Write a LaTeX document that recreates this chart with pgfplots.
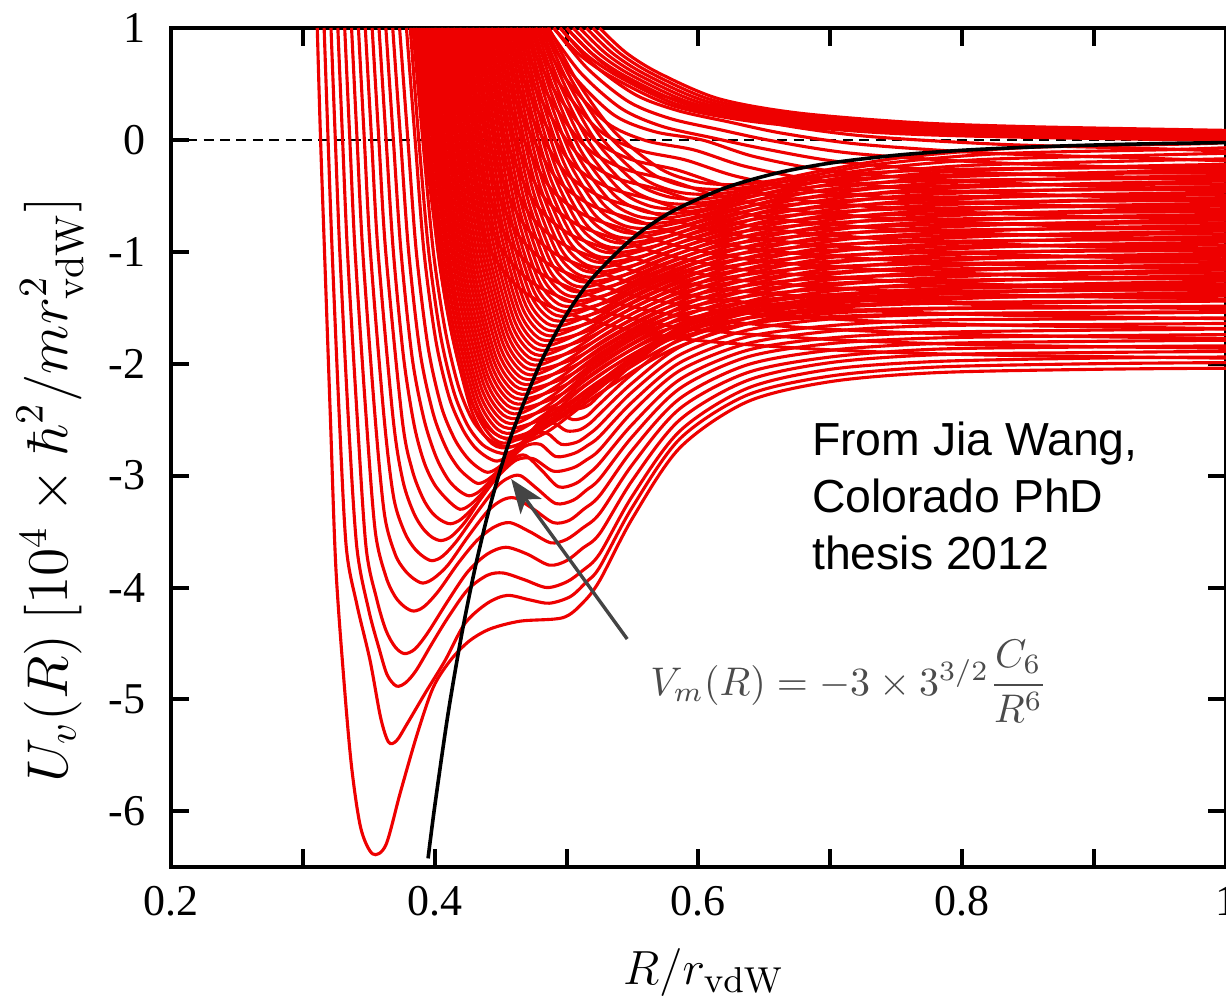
\documentclass[border=0pt]{standalone}
\usepackage[no-math]{fontspec}
\setmainfont{Liberation Serif}
\newfontfamily\notefont{Liberation Sans}
\usepackage{amsmath}
\usepackage{pgfplots}
\pgfplotsset{compat=1.18}
\usetikzlibrary{arrows.meta}

\definecolor{curvered}{RGB}{238,0,0}
\definecolor{annot}{RGB}{75,75,75}

\begin{document}
\begin{tikzpicture}
\begin{axis}[
    scale only axis,
    width=264pt, height=210pt,
    xmin=0.2, xmax=1, ymin=-6.5, ymax=1,
    xtick={0.2,0.3,0.4,0.5,0.6,0.7,0.8,0.9,1},
    xticklabels={0.2,,0.4,,0.6,,0.8,,1},
    ytick={-6,-5,-4,-3,-2,-1,0,1},
    yticklabels={-6,-5,-4,-3,-2,-1,0,1},
    tick align=inside, tick pos=both,
    major tick length=4.5pt,
    every tick/.style={black, line width=1pt},
    axis line style={line width=1pt},
    ticklabel style={font=\fontsize{11}{13}\selectfont},
    xticklabel style={yshift=-1.3pt},
    yticklabel style={xshift=-2.8pt},
    xlabel={$R/r_{\mathrm{vdW}}$},
    ylabel={$U_v(R)\ [10^4\times\hbar^2/mr_{\mathrm{vdW}}^2]$},
    every axis x label/.style={at={(rel axis cs:0.505,-0.139)}, anchor=base,
        font=\fontsize{12.7}{15}\selectfont},
    every axis y label/.style={at={(rel axis cs:-0.1146,0.45)}, anchor=center,
        rotate=90, font=\fontsize{13.8}{17}\selectfont},
    rc/.style={draw=curvered, line width=0.78pt, smooth, no markers},
]

% zero line
\addplot[black, line width=0.5pt, dash pattern=on 2.5pt off 1.6pt] coordinates {(0.2,0) (1,0)};

% ---- deep wells
\addplot[rc] coordinates {(0.311,1) (0.3135,0) (0.3165,-1) (0.321,-2.5) (0.325,-3.8) (0.331,-4.8) (0.337,-5.6) (0.344,-6.15) (0.353,-6.38) (0.363,-6.3) (0.374,-5.83) (0.387,-5.3) (0.399,-4.89) (0.412,-4.65) (0.426,-4.48) (0.442,-4.37) (0.465,-4.3) (0.497,-4.27) (0.512,-4.14) (0.525,-3.94) (0.55,-3.38) (0.586,-2.75) (0.637,-2.34) (0.70,-2.16) (0.78,-2.08) (0.90,-2.05) (1.0,-2.04)};
\addplot[rc] coordinates {(0.3162,1) (0.3192,0) (0.3223,-1) (0.3278,-2.5) (0.333,-3.64) (0.341,-4.15) (0.351,-4.65) (0.359,-5.16) (0.365,-5.38) (0.371,-5.37) (0.379,-5.22) (0.393,-4.94) (0.408,-4.65) (0.423,-4.32) (0.44,-4.14) (0.455,-4.07) (0.472,-4.11) (0.487,-4.14) (0.503,-4.08) (0.515,-3.95) (0.525,-3.82) (0.55,-3.28) (0.586,-2.67) (0.637,-2.28) (0.70,-2.11) (0.78,-2.03) (0.90,-2.0) (1.0,-1.99)};
\addplot[rc] coordinates {(0.3214,1) (0.3247,0) (0.3281,-1) (0.3346,-2.5) (0.341,-3.64) (0.35,-4.2) (0.358,-4.55) (0.364,-4.78) (0.371,-4.88) (0.378,-4.85) (0.386,-4.74) (0.398,-4.5) (0.41,-4.27) (0.425,-4.02) (0.44,-3.89) (0.452,-3.87) (0.468,-3.93) (0.485,-4.0) (0.5,-3.95) (0.512,-3.85) (0.525,-3.70) (0.55,-3.18) (0.586,-2.60) (0.637,-2.22) (0.70,-2.05) (0.78,-1.98) (0.9,-1.95) (1,-1.94)};
\addplot[rc] coordinates {(0.3266,1) (0.3302,0) (0.3339,-1) (0.3414,-2.5) (0.348,-3.64) (0.356,-4.1) (0.363,-4.38) (0.37,-4.53) (0.377,-4.59) (0.385,-4.55) (0.395,-4.4) (0.41,-4.12) (0.425,-3.86) (0.44,-3.7) (0.454,-3.64) (0.47,-3.7) (0.487,-3.8) (0.5,-3.76) (0.512,-3.65) (0.525,-3.52) (0.55,-3.04) (0.586,-2.5) (0.637,-2.15) (0.7,-1.99) (0.78,-1.92) (0.9,-1.9) (1,-1.89)};
\addplot[rc] coordinates {(0.3318,1) (0.3357,0) (0.3397,-1) (0.3482,-2.5) (0.355,-3.5) (0.363,-3.9) (0.37,-4.08) (0.377,-4.17) (0.384,-4.21) (0.392,-4.17) (0.403,-4.03) (0.418,-3.78) (0.432,-3.58) (0.445,-3.46) (0.457,-3.42) (0.472,-3.5) (0.488,-3.6) (0.5,-3.57) (0.512,-3.47) (0.525,-3.34) (0.55,-2.9) (0.586,-2.4) (0.637,-2.08) (0.7,-1.94) (0.78,-1.87) (0.9,-1.85) (1,-1.84)};
\addplot[rc] coordinates {(0.337,1) (0.3412,0) (0.3455,-1) (0.355,-2.5) (0.362,-3.35) (0.37,-3.7) (0.377,-3.84) (0.384,-3.92) (0.391,-3.96) (0.399,-3.92) (0.41,-3.8) (0.425,-3.55) (0.44,-3.32) (0.451,-3.22) (0.461,-3.2) (0.475,-3.3) (0.49,-3.42) (0.502,-3.4) (0.513,-3.3) (0.525,-3.18) (0.55,-2.77) (0.586,-2.31) (0.637,-2.01) (0.7,-1.88) (0.78,-1.82) (0.9,-1.8) (1,-1.79)};
\addplot[rc] coordinates {(0.3422,1) (0.3467,0) (0.3513,-1) (0.3618,-2.5) (0.369,-3.2) (0.377,-3.5) (0.384,-3.64) (0.391,-3.72) (0.398,-3.76) (0.406,-3.72) (0.417,-3.58) (0.432,-3.33) (0.447,-3.1) (0.456,-3.02) (0.465,-3.0) (0.478,-3.12) (0.492,-3.25) (0.505,-3.22) (0.515,-3.13) (0.525,-3.03) (0.55,-2.65) (0.586,-2.22) (0.637,-1.94) (0.7,-1.82) (0.78,-1.77) (0.9,-1.75) (1,-1.74)};
\addplot[rc] coordinates {(0.3474,1) (0.3522,0) (0.3571,-1) (0.3686,-2.5) (0.376,-3.05) (0.384,-3.33) (0.391,-3.47) (0.398,-3.55) (0.405,-3.58) (0.413,-3.54) (0.424,-3.4) (0.438,-3.15) (0.452,-2.93) (0.461,-2.84) (0.469,-2.82) (0.481,-2.95) (0.494,-3.1) (0.507,-3.07) (0.517,-2.98) (0.525,-2.89) (0.55,-2.54) (0.586,-2.14) (0.637,-1.88) (0.7,-1.77) (0.78,-1.72) (0.9,-1.70) (1,-1.69)};
\addplot[rc] coordinates {(0.3526,1) (0.3577,0) (0.3629,-1) (0.3754,-2.5) (0.383,-2.95) (0.391,-3.2) (0.398,-3.33) (0.405,-3.4) (0.412,-3.43) (0.42,-3.39) (0.432,-3.25) (0.447,-3.02) (0.462,-2.86) (0.475,-2.85) (0.49,-2.96) (0.505,-2.93) (0.515,-2.86) (0.525,-2.77) (0.55,-2.43) (0.586,-2.06) (0.637,-1.82) (0.7,-1.71) (0.78,-1.66) (0.9,-1.65) (1,-1.64)};
\addplot[rc] coordinates {(0.3578,1) (0.3632,0) (0.3687,-1) (0.3765,-1.95) (0.3845,-2.55) (0.392,-2.88) (0.4,-3.08) (0.41,-3.22) (0.419,-3.3) (0.427,-3.26) (0.439,-3.12) (0.454,-2.9) (0.468,-2.74) (0.48,-2.72) (0.492,-2.83) (0.506,-2.8) (0.516,-2.73) (0.525,-2.65) (0.55,-2.34) (0.586,-1.99) (0.637,-1.76) (0.7,-1.66) (0.78,-1.61) (0.9,-1.6) (1,-1.59)};
\addplot[rc] coordinates {(0.363,1) (0.3687,0) (0.3745,-1) (0.383,-1.95) (0.392,-2.5) (0.401,-2.83) (0.41,-3.03) (0.418,-3.13) (0.426,-3.18) (0.434,-3.14) (0.446,-3.0) (0.46,-2.8) (0.473,-2.64) (0.485,-2.62) (0.496,-2.72) (0.508,-2.7) (0.517,-2.63) (0.525,-2.55) (0.55,-2.25) (0.586,-1.92) (0.637,-1.70) (0.7,-1.60) (0.78,-1.56) (0.9,-1.55) (1,-1.54)};
\addplot[rc] coordinates {(0.3682,1) (0.3742,0) (0.3803,-1) (0.389,-1.9) (0.399,-2.45) (0.409,-2.76) (0.418,-2.93) (0.426,-3.02) (0.433,-3.07) (0.441,-3.03) (0.453,-2.9) (0.466,-2.71) (0.478,-2.56) (0.49,-2.53) (0.5,-2.6) (0.51,-2.59) (0.518,-2.53) (0.525,-2.45) (0.55,-2.17) (0.586,-1.85) (0.637,-1.64) (0.7,-1.55) (0.78,-1.51) (0.9,-1.5) (1,-1.49)};
\addplot[rc] coordinates {(0.3734,1) (0.3797,0) (0.3861,-1) (0.395,-1.85) (0.405,-2.38) (0.415,-2.67) (0.424,-2.83) (0.432,-2.92) (0.44,-2.97) (0.448,-2.93) (0.46,-2.8) (0.472,-2.62) (0.484,-2.48) (0.495,-2.45) (0.505,-2.5) (0.515,-2.47) (0.525,-2.36) (0.55,-2.09) (0.586,-1.78) (0.637,-1.59) (0.7,-1.5) (0.78,-1.46) (0.9,-1.45) (1,-1.44)};
\addplot[rc] coordinates {(0.3786,1) (0.3852,0) (0.3919,-1) (0.401,-1.8) (0.411,-2.3) (0.421,-2.58) (0.43,-2.74) (0.439,-2.83) (0.447,-2.87) (0.455,-2.83) (0.466,-2.71) (0.478,-2.54) (0.49,-2.41) (0.5,-2.38) (0.51,-2.4) (0.518,-2.36) (0.525,-2.28) (0.55,-2.01) (0.586,-1.72) (0.637,-1.53) (0.7,-1.45) (0.78,-1.41) (0.9,-1.4) (1,-1.39)};
\addplot[rc] coordinates {(0.3815,1) (0.388,0) (0.3955,-1) (0.4045,-1.75) (0.4145,-2.25) (0.425,-2.55) (0.436,-2.72) (0.447,-2.79) (0.455,-2.8) (0.465,-2.74) (0.48,-2.6) (0.5,-2.45) (0.525,-2.22) (0.55,-1.98) (0.586,-1.72) (0.637,-1.55) (0.7,-1.46) (0.78,-1.41) (0.9,-1.385) (1,-1.375)};
\addplot[rc] coordinates {(0.3835,1) (0.391,0) (0.399,-1) (0.408,-1.7) (0.418,-2.2) (0.4285,-2.5) (0.4395,-2.66) (0.45,-2.73) (0.459,-2.74) (0.47,-2.68) (0.485,-2.55) (0.505,-2.38) (0.53,-2.14) (0.555,-1.92) (0.59,-1.67) (0.64,-1.5) (0.7,-1.42) (0.78,-1.37) (0.9,-1.345) (1,-1.335)};
\addplot[rc] coordinates {(0.3855,1) (0.394,0) (0.4025,-1) (0.4115,-1.65) (0.4215,-2.14) (0.432,-2.44) (0.443,-2.6) (0.4535,-2.67) (0.4625,-2.68) (0.474,-2.62) (0.49,-2.48) (0.51,-2.3) (0.535,-2.07) (0.56,-1.86) (0.595,-1.62) (0.645,-1.46) (0.705,-1.38) (0.785,-1.33) (0.9,-1.305) (1,-1.295)};

% ---- upper curves, minima along V_m
\addplot[rc] coordinates {(0.384,1) (0.3947,-0.252) (0.4089,-1.473) (0.4266,-2.370) (0.4408,-2.683) (0.455,-2.75) (0.485,-2.611) (0.525,-2.264) (0.585,-1.847) (0.675,-1.541) (0.805,-1.416) (1,-1.36)};
\addplot[rc] coordinates {(0.3878,1) (0.3982,-0.223) (0.4122,-1.415) (0.4296,-2.292) (0.4435,-2.597) (0.4574,-2.663) (0.4874,-2.528) (0.5274,-2.189) (0.5874,-1.784) (0.6774,-1.486) (0.8074,-1.364) (1,-1.31)};
\addplot[rc] coordinates {(0.3916,1) (0.4019,-0.194) (0.4155,-1.358) (0.4326,-2.214) (0.4463,-2.512) (0.46,-2.576) (0.49,-2.445) (0.53,-2.116) (0.59,-1.721) (0.68,-1.432) (0.81,-1.314) (1,-1.261)};
\addplot[rc] coordinates {(0.3954,1) (0.4055,-0.165) (0.419,-1.301) (0.4358,-2.136) (0.4492,-2.427) (0.4627,-2.489) (0.4927,-2.361) (0.5327,-2.042) (0.5927,-1.658) (0.6827,-1.377) (0.8127,-1.262) (1,-1.211)};
\addplot[rc] coordinates {(0.3992,1) (0.4091,-0.136) (0.4224,-1.243) (0.4389,-2.058) (0.4522,-2.341) (0.4654,-2.402) (0.4954,-2.278) (0.5354,-1.968) (0.5954,-1.596) (0.6854,-1.323) (0.8154,-1.212) (1,-1.162)};
\addplot[rc] coordinates {(0.403,1) (0.4128,-0.107) (0.4259,-1.186) (0.4422,-1.980) (0.4552,-2.256) (0.4683,-2.315) (0.4983,-2.195) (0.5383,-1.894) (0.5983,-1.533) (0.6883,-1.268) (0.8183,-1.160) (1,-1.112)};
\addplot[rc] coordinates {(0.4068,1) (0.4165,-0.078) (0.4293,-1.129) (0.4454,-1.901) (0.4583,-2.170) (0.4712,-2.228) (0.5012,-2.111) (0.5412,-1.820) (0.6012,-1.470) (0.6912,-1.214) (0.8212,-1.109) (1,-1.062)};
\addplot[rc] coordinates {(0.4106,1) (0.4202,-0.049) (0.4329,-1.071) (0.4489,-1.823) (0.4616,-2.085) (0.4744,-2.141) (0.5044,-2.028) (0.5444,-1.746) (0.6044,-1.408) (0.6944,-1.160) (0.8244,-1.058) (1,-1.013)};
\addplot[rc] coordinates {(0.4144,1) (0.4239,-0.020) (0.4366,-1.014) (0.4524,-1.745) (0.465,-1.999) (0.4777,-2.054) (0.5077,-1.945) (0.5477,-1.672) (0.6077,-1.345) (0.6977,-1.105) (0.8277,-1.007) (1,-0.963)};
\addplot[rc] coordinates {(0.4182,1) (0.4276,0.009) (0.4402,-0.956) (0.4559,-1.667) (0.4685,-1.914) (0.4811,-1.967) (0.5111,-1.862) (0.5511,-1.598) (0.6111,-1.282) (0.7011,-1.050) (0.8311,-0.955) (1,-0.913)};
\addplot[rc] coordinates {(0.422,1) (0.4314,0.038) (0.444,-0.899) (0.4597,-1.589) (0.4722,-1.828) (0.4848,-1.880) (0.5148,-1.778) (0.5548,-1.524) (0.6148,-1.220) (0.7048,-0.996) (0.8348,-0.905) (1,-0.864)};
\addplot[rc] coordinates {(0.4258,1) (0.4352,0.067) (0.4478,-0.842) (0.4635,-1.510) (0.476,-1.743) (0.4886,-1.793) (0.5186,-1.695) (0.5586,-1.450) (0.6186,-1.157) (0.7086,-0.941) (0.8386,-0.853) (1,-0.814)};
\addplot[rc] coordinates {(0.4296,1) (0.4391,0.096) (0.4517,-0.784) (0.4675,-1.432) (0.4801,-1.658) (0.4927,-1.706) (0.5227,-1.612) (0.5627,-1.376) (0.6227,-1.094) (0.7127,-0.887) (0.8427,-0.802) (1,-0.764)};
\addplot[rc] coordinates {(0.4334,1) (0.443,0.126) (0.4557,-0.726) (0.4716,-1.353) (0.4844,-1.571) (0.4971,-1.618) (0.5271,-1.528) (0.5671,-1.302) (0.6271,-1.031) (0.7171,-0.832) (0.8471,-0.751) (1,-0.715)};
\addplot[rc] coordinates {(0.4372,1) (0.4469,0.154) (0.4597,-0.670) (0.4758,-1.276) (0.4887,-1.487) (0.5016,-1.532) (0.5316,-1.445) (0.5716,-1.229) (0.6316,-0.968) (0.7216,-0.778) (0.8516,-0.700) (1,-0.665)};
\addplot[rc] coordinates {(0.441,1) (0.4508,0.184) (0.464,-0.612) (0.4804,-1.197) (0.4935,-1.400) (0.5066,-1.444) (0.5366,-1.361) (0.5766,-1.154) (0.6366,-0.905) (0.7266,-0.723) (0.8566,-0.648) (1,-0.615)};
\addplot[rc] coordinates {(0.4448,1) (0.4549,0.213) (0.4683,-0.554) (0.485,-1.119) (0.4984,-1.315) (0.5118,-1.357) (0.5418,-1.278) (0.5818,-1.080) (0.6418,-0.843) (0.7318,-0.669) (0.8618,-0.598) (1,-0.566)};
\addplot[rc] coordinates {(0.4486,1) (0.4589,0.242) (0.4727,-0.497) (0.4899,-1.040) (0.5037,-1.229) (0.5175,-1.270) (0.5475,-1.195) (0.5875,-1.006) (0.6475,-0.780) (0.7375,-0.614) (0.8675,-0.546) (1,-0.516)};
\addplot[rc] coordinates {(0.4524,1) (0.4631,0.271) (0.4774,-0.440) (0.4952,-0.962) (0.5094,-1.144) (0.5237,-1.183) (0.5537,-1.111) (0.5937,-0.932) (0.6537,-0.718) (0.7437,-0.560) (0.8737,-0.496) (1,-0.467)};
\addplot[rc] coordinates {(0.4562,1) (0.4673,0.300) (0.4822,-0.382) (0.5007,-0.884) (0.5156,-1.059) (0.5304,-1.096) (0.5604,-1.028) (0.6004,-0.858) (0.6604,-0.655) (0.7504,-0.505) (0.8804,-0.444) (1,-0.417)};
\addplot[rc] coordinates {(0.46,1) (0.4717,0.329) (0.4872,-0.325) (0.5066,-0.806) (0.5222,-0.973) (0.5377,-1.009) (0.5677,-0.945) (0.6077,-0.784) (0.6677,-0.592) (0.7577,-0.451) (0.8877,-0.393) (1,-0.367)};
\addplot[rc] coordinates {(0.4638,1) (0.4761,0.358) (0.4925,-0.267) (0.5131,-0.728) (0.5295,-0.888) (0.5459,-0.922) (0.5759,-0.862) (0.6159,-0.711) (0.6759,-0.529) (0.7659,-0.397) (0.8959,-0.342) (1,-0.318)};
\addplot[rc] coordinates {(0.4676,1) (0.4807,0.387) (0.4982,-0.210) (0.52,-0.649) (0.5375,-0.802) (0.555,-0.835) (0.585,-0.778) (0.625,-0.637) (0.685,-0.466) (0.775,-0.342) (0.905,-0.291) (1,-0.268)};
\addplot[rc] coordinates {(0.4714,1) (0.4855,0.416) (0.5043,-0.153) (0.5277,-0.571) (0.5465,-0.717) (0.5653,-0.748) (0.5953,-0.695) (0.6353,-0.563) (0.6953,-0.404) (0.7853,-0.287) (0.9153,-0.239) (1,-0.218)};
\addplot[rc] coordinates {(0.4752,1) (0.4905,0.445) (0.5108,-0.095) (0.5363,-0.493) (0.5566,-0.631) (0.577,-0.661) (0.607,-0.612) (0.647,-0.489) (0.707,-0.341) (0.797,-0.233) (0.927,-0.189) (1,-0.169)};
\addplot[rc] coordinates {(0.479,1) (0.4958,0.474) (0.5181,-0.038) (0.5461,-0.415) (0.5684,-0.546) (0.5908,-0.574) (0.6208,-0.529) (0.6608,-0.415) (0.7208,-0.278) (0.8108,-0.178) (0.9408,-0.137) (1,-0.119)};
\addplot[rc] coordinates {(0.4828,1) (0.5015,0.503) (0.5263,0.020) (0.5574,-0.337) (0.5823,-0.460) (0.6072,-0.487) (0.6372,-0.445) (0.6772,-0.341) (0.7372,-0.216) (0.8272,-0.124) (0.9572,-0.087) (1,-0.070)};
\addplot[rc] coordinates {(0.4866,1) (0.5077,0.532) (0.5359,0.077) (0.5711,-0.258) (0.5992,-0.375) (0.6274,-0.40) (0.6574,-0.362) (0.6974,-0.267) (0.7574,-0.153) (0.8474,-0.069) (0.9774,-0.035) (1,-0.02)};

% ---- second set between them, quicker rise
\addplot[rc] coordinates {(0.3859,1) (0.3965,-0.238) (0.4105,-1.444) (0.4281,-2.331) (0.4421,-2.640) (0.4562,-2.7065) (0.4812,-2.531) (0.5162,-2.179) (0.5662,-1.828) (0.6462,-1.629) (0.7562,-1.558) (1,-1.535)};
\addplot[rc] coordinates {(0.3897,1) (0.4001,-0.209) (0.4139,-1.387) (0.4311,-2.253) (0.4449,-2.555) (0.4587,-2.6195) (0.4837,-2.449) (0.5187,-2.109) (0.5687,-1.769) (0.6487,-1.576) (0.7587,-1.508) (1,-1.486)};
\addplot[rc] coordinates {(0.3935,1) (0.4037,-0.180) (0.4173,-1.329) (0.4342,-2.175) (0.4478,-2.469) (0.4614,-2.5325) (0.4864,-2.368) (0.5214,-2.039) (0.5714,-1.710) (0.6514,-1.524) (0.7614,-1.458) (1,-1.436)};
\addplot[rc] coordinates {(0.3973,1) (0.4073,-0.151) (0.4207,-1.272) (0.4374,-2.097) (0.4507,-2.384) (0.4641,-2.4455) (0.4891,-2.287) (0.5241,-1.969) (0.5741,-1.651) (0.6541,-1.471) (0.7641,-1.408) (1,-1.387)};
\addplot[rc] coordinates {(0.4011,1) (0.411,-0.122) (0.4241,-1.215) (0.4406,-2.019) (0.4537,-2.298) (0.4669,-2.3585) (0.4919,-2.205) (0.5269,-1.899) (0.5769,-1.592) (0.6569,-1.419) (0.7669,-1.358) (1,-1.337)};
\addplot[rc] coordinates {(0.4049,1) (0.4146,-0.093) (0.4276,-1.157) (0.4438,-1.940) (0.4568,-2.213) (0.4698,-2.2715) (0.4948,-2.124) (0.5298,-1.829) (0.5798,-1.533) (0.6598,-1.366) (0.7698,-1.307) (1,-1.287)};
\addplot[rc] coordinates {(0.4087,1) (0.4183,-0.064) (0.4311,-1.100) (0.4472,-1.862) (0.46,-2.128) (0.4728,-2.1845) (0.4978,-2.042) (0.5328,-1.758) (0.5828,-1.474) (0.6628,-1.313) (0.7728,-1.256) (1,-1.238)};
\addplot[rc] coordinates {(0.4125,1) (0.422,-0.035) (0.4348,-1.043) (0.4507,-1.784) (0.4634,-2.042) (0.4761,-2.0975) (0.5011,-1.961) (0.5361,-1.688) (0.5861,-1.415) (0.6661,-1.261) (0.7761,-1.206) (1,-1.188)};
\addplot[rc] coordinates {(0.4163,1) (0.4258,-0.006) (0.4384,-0.985) (0.4542,-1.706) (0.4668,-1.957) (0.4794,-2.0105) (0.5044,-1.880) (0.5394,-1.618) (0.5894,-1.356) (0.6694,-1.208) (0.7794,-1.155) (1,-1.138)};
\addplot[rc] coordinates {(0.4201,1) (0.4295,0.024) (0.4421,-0.928) (0.4578,-1.628) (0.4704,-1.871) (0.483,-1.9235) (0.508,-1.798) (0.543,-1.548) (0.593,-1.297) (0.673,-1.155) (0.783,-1.105) (1,-1.089)};
\addplot[rc] coordinates {(0.4239,1) (0.4333,0.053) (0.4459,-0.870) (0.4616,-1.549) (0.4741,-1.786) (0.4867,-1.8365) (0.5117,-1.717) (0.5467,-1.478) (0.5967,-1.238) (0.6767,-1.103) (0.7867,-1.055) (1,-1.039)};
\addplot[rc] coordinates {(0.4277,1) (0.4372,0.082) (0.4498,-0.813) (0.4655,-1.471) (0.4781,-1.700) (0.4907,-1.7495) (0.5157,-1.635) (0.5507,-1.407) (0.6007,-1.179) (0.6807,-1.050) (0.7907,-1.004) (1,-0.989)};
\addplot[rc] coordinates {(0.4315,1) (0.441,0.111) (0.4537,-0.755) (0.4695,-1.393) (0.4822,-1.614) (0.4949,-1.662) (0.5199,-1.554) (0.5549,-1.337) (0.6049,-1.120) (0.6849,-0.997) (0.7949,-0.954) (1,-0.940)};
\addplot[rc] coordinates {(0.4353,1) (0.4449,0.140) (0.4577,-0.698) (0.4738,-1.314) (0.4866,-1.529) (0.4994,-1.575) (0.5244,-1.472) (0.5594,-1.267) (0.6094,-1.061) (0.6894,-0.945) (0.7994,-0.904) (1,-0.890)};
\addplot[rc] coordinates {(0.4391,1) (0.4489,0.169) (0.4619,-0.641) (0.4781,-1.236) (0.4911,-1.444) (0.5041,-1.488) (0.5291,-1.391) (0.5641,-1.196) (0.6141,-1.002) (0.6941,-0.892) (0.8041,-0.853) (1,-0.84)};
\addplot[rc] coordinates {(0.4429,1) (0.4528,0.198) (0.4661,-0.583) (0.4827,-1.158) (0.4959,-1.358) (0.5092,-1.4005) (0.5342,-1.309) (0.5692,-1.126) (0.6192,-0.943) (0.6992,-0.839) (0.8092,-0.803) (1,-0.791)};
\addplot[rc] coordinates {(0.4467,1) (0.4569,0.227) (0.4705,-0.526) (0.4875,-1.079) (0.5011,-1.272) (0.5147,-1.3135) (0.5397,-1.228) (0.5747,-1.056) (0.6247,-0.884) (0.7047,-0.787) (0.8147,-0.752) (1,-0.741)};
\addplot[rc] coordinates {(0.4505,1) (0.461,0.256) (0.475,-0.468) (0.4926,-1.001) (0.5066,-1.187) (0.5206,-1.2265) (0.5456,-1.146) (0.5806,-0.986) (0.6306,-0.825) (0.7106,-0.734) (0.8206,-0.702) (1,-0.692)};
\addplot[rc] coordinates {(0.4543,1) (0.4652,0.285) (0.4798,-0.411) (0.498,-0.923) (0.5125,-1.101) (0.5271,-1.1395) (0.5521,-1.065) (0.5871,-0.916) (0.6371,-0.766) (0.7171,-0.682) (0.8271,-0.652) (1,-0.642)};
\addplot[rc] coordinates {(0.4581,1) (0.4695,0.315) (0.4847,-0.353) (0.5037,-0.845) (0.5189,-1.016) (0.5341,-1.0525) (0.5591,-0.983) (0.5941,-0.845) (0.6441,-0.707) (0.7241,-0.629) (0.8341,-0.601) (1,-0.592)};
\addplot[rc] coordinates {(0.4619,1) (0.4739,0.344) (0.4899,-0.296) (0.5098,-0.767) (0.5258,-0.930) (0.5418,-0.9655) (0.5668,-0.902) (0.6018,-0.775) (0.6518,-0.648) (0.7318,-0.576) (0.8418,-0.551) (1,-0.5425)};
\addplot[rc] coordinates {(0.4657,1) (0.4784,0.373) (0.4954,-0.239) (0.5166,-0.688) (0.5335,-0.845) (0.5505,-0.8785) (0.5755,-0.821) (0.6105,-0.705) (0.6605,-0.589) (0.7405,-0.524) (0.8505,-0.501) (1,-0.493)};
\addplot[rc] coordinates {(0.4695,1) (0.4831,0.402) (0.5012,-0.181) (0.5239,-0.610) (0.5421,-0.759) (0.5602,-0.7915) (0.5852,-0.739) (0.6202,-0.635) (0.6702,-0.530) (0.7502,-0.471) (0.8602,-0.450) (1,-0.443)};
\addplot[rc] coordinates {(0.4733,1) (0.488,0.431) (0.5076,-0.124) (0.532,-0.532) (0.5516,-0.674) (0.5712,-0.7045) (0.5962,-0.658) (0.6312,-0.565) (0.6812,-0.471) (0.7612,-0.418) (0.8712,-0.400) (1,-0.394)};
\addplot[rc] coordinates {(0.4771,1) (0.4931,0.460) (0.5145,-0.067) (0.5412,-0.454) (0.5625,-0.589) (0.5839,-0.6175) (0.6089,-0.577) (0.6439,-0.494) (0.6939,-0.412) (0.7739,-0.366) (0.8839,-0.350) (1,-0.344)};
\addplot[rc] coordinates {(0.4809,1) (0.4986,0.489) (0.5222,-0.009) (0.5518,-0.376) (0.5754,-0.503) (0.599,-0.5305) (0.624,-0.495) (0.659,-0.424) (0.709,-0.354) (0.789,-0.313) (0.899,-0.299) (1,-0.295)};
\addplot[rc] coordinates {(0.4847,1) (0.5046,0.518) (0.5311,0.048) (0.5643,-0.297) (0.5908,-0.418) (0.6173,-0.4435) (0.6423,-0.414) (0.6773,-0.354) (0.7273,-0.295) (0.8073,-0.261) (0.9173,-0.249) (1,-0.245)};

% ---- curves bending over just above V_m
\addplot[rc] coordinates {(0.400,1) (0.418,-0.07) (0.4405,-0.94) (0.463,-1.312) (0.49,-1.50) (0.53,-1.65) (0.59,-1.78) (0.69,-1.87) (0.81,-1.92) (1,-1.95)};
\addplot[rc] coordinates {(0.4048,1) (0.4232,-0.032) (0.4462,-0.872) (0.4691,-1.230) (0.4967,-1.412) (0.5367,-1.562) (0.5967,-1.692) (0.6967,-1.782) (0.8167,-1.832) (1,-1.862)};
\addplot[rc] coordinates {(0.4095,1) (0.4283,0.005) (0.4517,-0.803) (0.4752,-1.149) (0.5033,-1.324) (0.5433,-1.474) (0.6033,-1.604) (0.7033,-1.694) (0.8233,-1.744) (1,-1.774)};
\addplot[rc] coordinates {(0.4143,1) (0.4334,0.043) (0.4574,-0.735) (0.4813,-1.068) (0.51,-1.236) (0.55,-1.386) (0.61,-1.516) (0.71,-1.606) (0.83,-1.656) (1,-1.686)};
\addplot[rc] coordinates {(0.419,1) (0.4385,0.081) (0.463,-0.667) (0.4874,-0.986) (0.5167,-1.148) (0.5567,-1.298) (0.6167,-1.428) (0.7167,-1.518) (0.8367,-1.568) (1,-1.598)};
\addplot[rc] coordinates {(0.4238,1) (0.4437,0.118) (0.4686,-0.599) (0.4935,-0.905) (0.5233,-1.06) (0.5633,-1.21) (0.6233,-1.34) (0.7233,-1.43) (0.8433,-1.48) (1,-1.51)};
\addplot[rc] coordinates {(0.4286,1) (0.4489,0.156) (0.4742,-0.530) (0.4996,-0.823) (0.53,-0.971) (0.57,-1.121) (0.63,-1.251) (0.73,-1.341) (0.85,-1.391) (1,-1.421)};
\addplot[rc] coordinates {(0.4333,1) (0.454,0.194) (0.4798,-0.461) (0.5057,-0.741) (0.5367,-0.883) (0.5767,-1.033) (0.6367,-1.163) (0.7367,-1.253) (0.8567,-1.303) (1,-1.333)};
\addplot[rc] coordinates {(0.4381,1) (0.4591,0.232) (0.4854,-0.393) (0.5117,-0.660) (0.5433,-0.795) (0.5833,-0.945) (0.6433,-1.075) (0.7433,-1.165) (0.8633,-1.215) (1,-1.245)};
\addplot[rc] coordinates {(0.4429,1) (0.4643,0.269) (0.4911,-0.325) (0.5179,-0.579) (0.55,-0.707) (0.59,-0.857) (0.65,-0.987) (0.75,-1.077) (0.87,-1.127) (1,-1.157)};
\addplot[rc] coordinates {(0.4476,1) (0.4694,0.307) (0.4967,-0.256) (0.524,-0.497) (0.5567,-0.619) (0.5967,-0.769) (0.6567,-0.899) (0.7567,-0.989) (0.8767,-1.039) (1,-1.069)};
\addplot[rc] coordinates {(0.4524,1) (0.4746,0.345) (0.5023,-0.188) (0.53,-0.416) (0.5633,-0.531) (0.6033,-0.681) (0.6633,-0.811) (0.7633,-0.901) (0.8833,-0.951) (1,-0.981)};
\addplot[rc] coordinates {(0.4571,1) (0.4797,0.382) (0.5079,-0.120) (0.5361,-0.334) (0.57,-0.443) (0.61,-0.593) (0.67,-0.723) (0.77,-0.813) (0.89,-0.863) (1,-0.893)};
\addplot[rc] coordinates {(0.4619,1) (0.4849,0.420) (0.5136,-0.052) (0.5423,-0.253) (0.5767,-0.355) (0.6167,-0.505) (0.6767,-0.635) (0.7767,-0.725) (0.8967,-0.775) (1,-0.805)};
\addplot[rc] coordinates {(0.4667,1) (0.49,0.458) (0.5192,0.017) (0.5483,-0.172) (0.5833,-0.267) (0.6233,-0.417) (0.6833,-0.547) (0.7833,-0.637) (0.9033,-0.687) (1,-0.717)};
\addplot[rc] coordinates {(0.4714,1) (0.4951,0.495) (0.5248,0.085) (0.5544,-0.090) (0.59,-0.179) (0.63,-0.329) (0.69,-0.459) (0.79,-0.549) (0.91,-0.599) (1,-0.629)};
\addplot[rc] coordinates {(0.4762,1) (0.5003,0.534) (0.5304,0.154) (0.5606,-0.008) (0.5967,-0.09) (0.6367,-0.24) (0.6967,-0.37) (0.7967,-0.46) (0.9167,-0.51) (1,-0.54)};
\addplot[rc] coordinates {(0.481,1) (0.5055,0.571) (0.536,0.222) (0.5666,0.074) (0.6033,-0.002) (0.6433,-0.152) (0.7033,-0.282) (0.8033,-0.372) (0.9233,-0.422) (1,-0.452)};
\addplot[rc] coordinates {(0.4857,1) (0.5106,0.60) (0.5416,0.28) (0.5727,0.12) (0.61,0.02) (0.65,-0.08) (0.71,-0.20) (0.81,-0.29) (0.93,-0.335) (1,-0.364)};
\addplot[rc] coordinates {(0.4905,1) (0.5157,0.64) (0.5473,0.34) (0.5788,0.19) (0.6167,0.09) (0.6567,-0.01) (0.7167,-0.12) (0.8167,-0.20) (0.9367,-0.25) (1,-0.276)};
\addplot[rc] coordinates {(0.4952,1) (0.5208,0.67) (0.5528,0.40) (0.5849,0.26) (0.6233,0.16) (0.6633,0.06) (0.7233,-0.04) (0.8233,-0.12) (0.9433,-0.165) (1,-0.188)};
\addplot[rc] coordinates {(0.500,1) (0.526,0.70) (0.5585,0.46) (0.591,0.33) (0.63,0.22) (0.67,0.12) (0.73,0.03) (0.83,-0.04) (0.95,-0.08) (1,-0.10)};

% ---- top band, decaying to threshold
\addplot[rc] coordinates {(0.525,1) (0.545,0.780) (0.570,0.597) (0.615,0.369) (0.675,0.241) (0.765,0.154) (0.855,0.117) (1,0.085)};
\addplot[rc] coordinates {(0.520,1) (0.540,0.777) (0.565,0.591) (0.610,0.358) (0.670,0.228) (0.760,0.140) (0.850,0.103) (1,0.070)};
\addplot[rc] coordinates {(0.515,1) (0.535,0.773) (0.560,0.584) (0.605,0.348) (0.665,0.216) (0.755,0.126) (0.845,0.088) (1,0.055)};
\addplot[rc] coordinates {(0.510,1) (0.530,0.770) (0.555,0.578) (0.600,0.338) (0.660,0.203) (0.750,0.112) (0.840,0.074) (1,0.040)};
\addplot[rc] coordinates {(0.505,1) (0.525,0.767) (0.550,0.572) (0.595,0.329) (0.655,0.193) (0.745,0.101) (0.835,0.062) (1,0.028)};
\addplot[rc] coordinates {(0.500,1) (0.520,0.764) (0.545,0.567) (0.590,0.321) (0.650,0.183) (0.740,0.090) (0.830,0.050) (1,0.016)};
\addplot[rc] coordinates {(0.495,1) (0.515,0.761) (0.540,0.562) (0.585,0.313) (0.645,0.174) (0.735,0.080) (0.825,0.040) (1,0.005)};
\addplot[rc] coordinates {(0.490,1) (0.510,0.759) (0.535,0.558) (0.580,0.307) (0.640,0.166) (0.730,0.070) (0.820,0.030) (1,-0.005)};

% V_m(R)
\addplot[black, line width=0.9pt, smooth] coordinates {(0.395,-6.42) (0.40,-5.96) (0.41,-5.14) (0.42,-4.45) (0.43,-3.86) (0.44,-3.36) (0.45,-2.94) (0.46,-2.58) (0.48,-2.00) (0.50,-1.56) (0.52,-1.23) (0.55,-0.88) (0.58,-0.64) (0.62,-0.43) (0.66,-0.295) (0.70,-0.207) (0.75,-0.137) (0.80,-0.093) (0.85,-0.065) (0.90,-0.046) (0.95,-0.033) (1.0,-0.024)};

\draw[annot!90!black, line width=0.85pt, -{Stealth[length=8.5pt,width=6.5pt,inset=2.2pt]}]
    (axis cs:0.546,-4.46) -- (axis cs:0.458,-3.03);
\node[anchor=west, inner sep=0pt, text=annot, font=\fontsize{10.2}{12}\selectfont]
    at (axis cs:0.563,-4.84) {$V_m(R) = -3\times 3^{3/2}\dfrac{C_6}{R^6}$};
\node[anchor=north west, inner sep=0pt, align=left, font=\notefont\fontsize{11.6}{14.25}\selectfont]
    at (axis cs:0.6856,-2.516) {From Jia Wang,\\Colorado PhD\\thesis 2012};

\coordinate (ll) at (rel axis cs:0,0);
\coordinate (ur) at (rel axis cs:1,1);
\end{axis}
\pgfresetboundingbox
\path[use as bounding box] ([xshift=-42.75pt,yshift=-32.25pt]ll) rectangle ([yshift=7pt]ur);
\end{tikzpicture}
\end{document}
